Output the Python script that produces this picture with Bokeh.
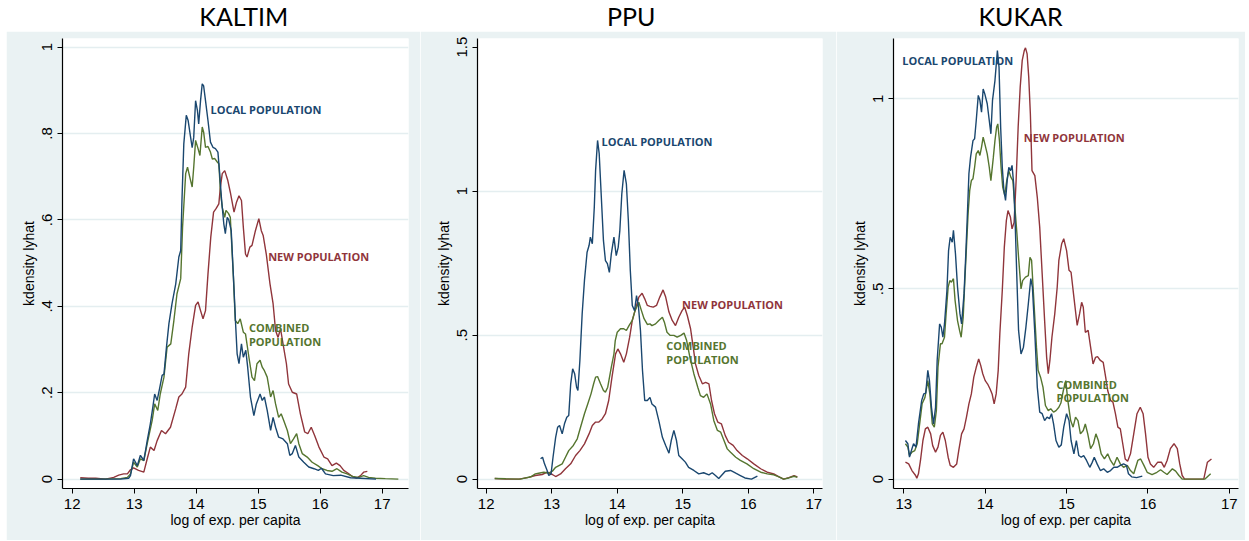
from bokeh.plotting import figure
from bokeh.layouts import row, column
from bokeh.models import FixedTicker, Range1d, ColumnDataSource, Spacer
from bokeh.core.properties import value
from bokeh.embed import file_html
from bokeh.resources import INLINE

# ---------------- data ----------------
panel_titles = ["KALTIM", "PPU", "KUKAR"]
x_axis_title = "log of exp. per capita"
y_axis_title = "kdensity lyhat"

kaltim_xticks = [12, 13, 14, 15, 16, 17]
kaltim_yticks = [0, 0.2, 0.4, 0.6, 0.8, 1.0]
kaltim_ytick_labels = ["0", ".2", ".4", ".6", ".8", "1"]

ppu_xticks = [12, 13, 14, 15, 16, 17]
ppu_yticks = [0, 0.5, 1.0, 1.5]
ppu_ytick_labels = ["0", ".5", "1", "1.5"]

kukar_xticks = [13, 14, 15, 16, 17]
kukar_yticks = [0, 0.5, 1.0]
kukar_ytick_labels = ["0", ".5", "1"]

# (x, density)
kaltim_local = [(12.13,0.0),(12.5,0.0),(12.78,0.0),(12.91,0.002),(12.94,0.008),(12.99,0.047),(13.05,0.031),(13.10,0.055),(13.155,0.043),(13.21,0.089),(13.26,0.128),(13.30,0.166),(13.33,0.197),(13.37,0.182),(13.41,0.21),(13.45,0.24),(13.48,0.243),(13.52,0.305),(13.56,0.36),(13.61,0.406),(13.67,0.452),(13.72,0.514),(13.75,0.529),(13.77,0.645),(13.80,0.776),(13.84,0.842),(13.87,0.83),(13.91,0.791),(13.935,0.767),(13.96,0.791),(13.99,0.876),(14.02,0.853),(14.04,0.822),(14.07,0.876),(14.097,0.915),(14.12,0.91),(14.15,0.876),(14.19,0.83),(14.23,0.78),(14.27,0.768),(14.31,0.765),(14.35,0.757),(14.375,0.714),(14.41,0.645),(14.445,0.591),(14.47,0.568),(14.50,0.606),(14.525,0.60),(14.565,0.575),(14.61,0.44),(14.635,0.36),(14.66,0.29),(14.69,0.267),(14.73,0.313),(14.76,0.282),(14.80,0.298),(14.83,0.259),(14.875,0.19),(14.93,0.147),(14.97,0.174),(15.03,0.197),(15.065,0.182),(15.10,0.19),(15.145,0.159),(15.20,0.1125),(15.24,0.143),(15.28,0.12),(15.33,0.097),(15.40,0.093),(15.47,0.082),(15.51,0.055),(15.55,0.059),(15.60,0.078),(15.655,0.051),(15.735,0.039),(15.815,0.028),(15.90,0.024),(15.97,0.02),(16.02,0.025),(16.085,0.012),(16.21,0.008),(16.33,0.009),(16.49,0.003),(16.65,0.002),(16.9,0.0)]

kaltim_new = [(12.13,0.003),(12.26,0.002),(12.38,0.002),(12.54,0.0),(12.67,0.004),(12.75,0.009),(12.83,0.012),(12.89,0.012),(12.94,0.0215),(12.99,0.026),(13.07,0.02),(13.155,0.016),(13.21,0.047),(13.26,0.074),(13.32,0.066),(13.37,0.089),(13.44,0.1125),(13.505,0.105),(13.585,0.12),(13.67,0.163),(13.72,0.19),(13.77,0.197),(13.83,0.213),(13.88,0.29),(13.935,0.352),(13.99,0.402),(14.03,0.41),(14.07,0.39),(14.11,0.371),(14.15,0.39),(14.19,0.475),(14.235,0.56),(14.28,0.618),(14.32,0.626),(14.365,0.637),(14.39,0.676),(14.42,0.707),(14.46,0.714),(14.51,0.691),(14.55,0.664),(14.61,0.618),(14.65,0.641),(14.69,0.656),(14.73,0.645),(14.76,0.583),(14.795,0.521),(14.82,0.514),(14.865,0.537),(14.90,0.541),(14.955,0.575),(15.01,0.603),(15.05,0.575),(15.08,0.564),(15.13,0.521),(15.19,0.452),(15.24,0.406),(15.28,0.344),(15.32,0.328),(15.36,0.348),(15.41,0.305),(15.455,0.267),(15.49,0.22),(15.55,0.201),(15.62,0.197),(15.68,0.151),(15.75,0.109),(15.80,0.105),(15.855,0.12),(15.91,0.101),(15.98,0.074),(16.06,0.051),(16.12,0.047),(16.19,0.031),(16.26,0.037),(16.32,0.031),(16.38,0.02),(16.445,0.014),(16.52,0.006),(16.585,0.002),(16.65,0.008),(16.70,0.016),(16.76,0.018)]

kaltim_combined = [(12.13,0.0),(12.46,0.0),(12.78,0.001),(12.89,0.004),(12.94,0.012),(12.99,0.039),(13.05,0.028),(13.10,0.047),(13.155,0.043),(13.21,0.082),(13.29,0.136),(13.33,0.174),(13.38,0.159),(13.42,0.197),(13.48,0.236),(13.53,0.305),(13.59,0.313),(13.64,0.367),(13.69,0.429),(13.75,0.464),(13.78,0.583),(13.83,0.707),(13.86,0.722),(13.89,0.703),(13.935,0.676),(13.96,0.722),(13.99,0.784),(14.03,0.765),(14.06,0.749),(14.097,0.815),(14.12,0.803),(14.15,0.768),(14.19,0.77),(14.23,0.757),(14.26,0.741),(14.30,0.742),(14.34,0.734),(14.365,0.73),(14.39,0.668),(14.42,0.629),(14.46,0.606),(14.48,0.622),(14.52,0.615),(14.55,0.606),(14.60,0.467),(14.63,0.367),(14.67,0.36),(14.71,0.371),(14.76,0.34),(14.795,0.336),(14.85,0.282),(14.90,0.236),(14.94,0.228),(14.98,0.267),(15.03,0.275),(15.065,0.259),(15.10,0.251),(15.145,0.236),(15.20,0.19),(15.24,0.205),(15.28,0.174),(15.33,0.143),(15.37,0.151),(15.41,0.136),(15.47,0.1125),(15.52,0.082),(15.57,0.093),(15.62,0.105),(15.655,0.082),(15.71,0.059),(15.79,0.051),(15.87,0.039),(15.96,0.031),(16.03,0.024),(16.11,0.02),(16.19,0.018),(16.27,0.024),(16.35,0.016),(16.435,0.012),(16.52,0.006),(16.62,0.004),(16.70,0.008),(16.78,0.004),(16.89,0.002),(17.05,0.001),(17.26,0.0)]

ppu_local = [(12.83,0.0705),(12.86,0.076),(12.89,0.053),(12.93,0.03),(12.955,0.0125),(12.99,0.018),(13.02,0.076),(13.06,0.145),(13.09,0.18),(13.12,0.186),(13.16,0.157),(13.195,0.192),(13.23,0.215),(13.26,0.221),(13.29,0.331),(13.32,0.383),(13.35,0.366),(13.38,0.319),(13.40,0.308),(13.43,0.412),(13.465,0.574),(13.50,0.69),(13.54,0.788),(13.57,0.811),(13.59,0.84),(13.62,0.817),(13.65,0.944),(13.67,1.072),(13.70,1.176),(13.725,1.13),(13.755,0.99),(13.79,0.828),(13.82,0.759),(13.85,0.748),(13.88,0.718),(13.91,0.782),(13.95,0.84),(13.985,0.776),(14.015,0.805),(14.04,0.863),(14.07,0.99),(14.105,1.072),(14.14,1.025),(14.17,0.898),(14.20,0.724),(14.23,0.603),(14.265,0.585),(14.295,0.6375),(14.325,0.597),(14.355,0.516),(14.386,0.377),(14.42,0.273),(14.46,0.273),(14.50,0.284),(14.53,0.261),(14.585,0.25),(14.635,0.203),(14.69,0.145),(14.74,0.117),(14.79,0.09),(14.825,0.134),(14.865,0.169),(14.905,0.134),(14.94,0.082),(14.99,0.0705),(15.04,0.059),(15.09,0.041),(15.17,0.03),(15.245,0.018),(15.32,0.022),(15.40,0.015),(15.45,0.022),(15.50,0.0125),(15.55,0.002),(15.65,0.0275),(15.73,0.03),(15.81,0.0205),(15.88,0.0125),(15.95,0.004),(16.05,0.0),(16.14,0.01)]

ppu_new = [(12.13,0.002),(12.3,0.0),(12.5,0.0),(12.65,0.006),(12.75,0.0125),(12.855,0.016),(12.93,0.024),(13.01,0.016),(13.06,0.009),(13.135,0.018),(13.21,0.036),(13.29,0.053),(13.365,0.082),(13.43,0.099),(13.50,0.1225),(13.57,0.157),(13.62,0.186),(13.67,0.198),(13.72,0.198),(13.77,0.209),(13.82,0.227),(13.87,0.273),(13.92,0.354),(13.975,0.435),(14.01,0.452),(14.05,0.435),(14.10,0.406),(14.14,0.435),(14.19,0.493),(14.23,0.551),(14.28,0.591),(14.33,0.632),(14.38,0.6455),(14.42,0.626),(14.46,0.603),(14.50,0.60),(14.55,0.597),(14.60,0.603),(14.65,0.632),(14.70,0.657),(14.74,0.632),(14.79,0.58),(14.84,0.551),(14.89,0.533),(14.94,0.562),(14.99,0.585),(15.03,0.597),(15.07,0.568),(15.12,0.522),(15.16,0.458),(15.195,0.40),(15.245,0.36),(15.30,0.331),(15.35,0.336),(15.40,0.331),(15.44,0.273),(15.485,0.227),(15.535,0.198),(15.59,0.192),(15.65,0.151),(15.70,0.128),(15.77,0.117),(15.83,0.099),(15.91,0.082),(15.985,0.0705),(16.085,0.053),(16.19,0.036),(16.29,0.024),(16.39,0.018),(16.47,0.008),(16.54,0.0),(16.62,0.005),(16.70,0.012),(16.75,0.008)]

ppu_combined = [(12.13,0.002),(12.3,0.001),(12.52,0.0),(12.68,0.008),(12.75,0.018),(12.80,0.0205),(12.88,0.024),(12.955,0.0205),(13.01,0.0275),(13.06,0.041),(13.11,0.047),(13.16,0.053),(13.21,0.076),(13.26,0.099),(13.33,0.117),(13.39,0.14),(13.44,0.18),(13.50,0.227),(13.55,0.261),(13.60,0.296),(13.64,0.331),(13.67,0.354),(13.70,0.356),(13.745,0.331),(13.79,0.308),(13.82,0.302),(13.855,0.319),(13.91,0.389),(13.95,0.435),(13.97,0.481),(14.00,0.51),(14.05,0.522),(14.10,0.522),(14.14,0.516),(14.18,0.533),(14.23,0.551),(14.265,0.58),(14.295,0.597),(14.33,0.614),(14.37,0.585),(14.41,0.557),(14.46,0.537),(14.50,0.539),(14.53,0.533),(14.585,0.539),(14.635,0.551),(14.69,0.562),(14.72,0.545),(14.76,0.51),(14.81,0.499),(14.865,0.499),(14.915,0.493),(14.97,0.499),(15.02,0.507),(15.06,0.481),(15.11,0.423),(15.17,0.366),(15.23,0.319),(15.27,0.29),(15.32,0.284),(15.37,0.296),(15.425,0.261),(15.475,0.203),(15.53,0.169),(15.58,0.163),(15.63,0.134),(15.68,0.105),(15.73,0.093),(15.81,0.076),(15.88,0.065),(15.98,0.053),(16.085,0.036),(16.19,0.024),(16.29,0.018),(16.39,0.015),(16.47,0.008),(16.54,0.0),(16.62,0.004),(16.70,0.01),(16.75,0.006)]

kukar_local = [(13.02,0.1015),(13.05,0.093),(13.07,0.058),(13.10,0.08),(13.12,0.093),(13.15,0.084),(13.18,0.145),(13.22,0.207),(13.245,0.224),(13.27,0.226),(13.295,0.286),(13.315,0.259),(13.34,0.189),(13.365,0.145),(13.39,0.189),(13.41,0.312),(13.44,0.408),(13.46,0.40),(13.48,0.373),(13.50,0.408),(13.53,0.496),(13.55,0.601),(13.57,0.636),(13.595,0.623),(13.61,0.654),(13.635,0.592),(13.66,0.505),(13.69,0.435),(13.71,0.408),(13.74,0.487),(13.76,0.583),(13.78,0.689),(13.80,0.803),(13.82,0.846),(13.85,0.89),(13.87,0.895),(13.89,0.943),(13.915,1.009),(13.935,0.996),(13.955,0.965),(13.975,1.026),(13.995,1.013),(14.025,0.987),(14.05,0.943),(14.07,0.908),(14.09,0.996),(14.12,1.048),(14.14,1.101),(14.15,1.127),(14.17,1.083),(14.19,0.925),(14.21,0.82),(14.23,0.759),(14.25,0.733),(14.27,0.785),(14.29,0.82),(14.31,0.811),(14.33,0.825),(14.35,0.776),(14.37,0.662),(14.39,0.522),(14.41,0.391),(14.44,0.329),(14.47,0.347),(14.50,0.399),(14.53,0.461),(14.56,0.527),(14.58,0.505),(14.61,0.382),(14.64,0.242),(14.67,0.176),(14.70,0.172),(14.73,0.154),(14.76,0.163),(14.79,0.159),(14.815,0.172),(14.84,0.145),(14.87,0.1015),(14.905,0.084),(14.935,0.09),(14.965,0.1365),(15.0,0.172),(15.03,0.154),(15.055,0.1015),(15.09,0.0665),(15.12,0.1015),(15.15,0.062),(15.18,0.0575),(15.21,0.062),(15.245,0.049),(15.285,0.031),(15.315,0.044),(15.34,0.0575),(15.375,0.04),(15.415,0.0225),(15.455,0.027),(15.50,0.018),(15.54,0.0225),(15.58,0.031),(15.62,0.031),(15.66,0.036),(15.70,0.04),(15.735,0.036),(15.76,0.014),(15.80,0.006),(15.86,0.004),(15.93,0.008)]

kukar_new = [(13.02,0.0445),(13.06,0.040),(13.10,0.0225),(13.145,0.0095),(13.16,0.002),(13.18,0.014),(13.205,0.049),(13.235,0.1015),(13.265,0.132),(13.295,0.1365),(13.33,0.119),(13.355,0.088),(13.39,0.071),(13.42,0.084),(13.45,0.115),(13.48,0.1235),(13.51,0.1015),(13.545,0.0575),(13.57,0.036),(13.61,0.031),(13.65,0.040),(13.675,0.075),(13.71,0.119),(13.74,0.132),(13.77,0.163),(13.80,0.198),(13.83,0.224),(13.86,0.268),(13.89,0.294),(13.92,0.316),(13.945,0.299),(13.97,0.277),(14.00,0.259),(14.03,0.25),(14.06,0.237),(14.085,0.224),(14.11,0.198),(14.135,0.224),(14.16,0.286),(14.18,0.382),(14.21,0.496),(14.235,0.61),(14.26,0.68),(14.28,0.706),(14.31,0.689),(14.33,0.658),(14.355,0.675),(14.38,0.785),(14.405,0.925),(14.43,1.03),(14.455,1.101),(14.48,1.127),(14.495,1.134),(14.515,1.118),(14.535,1.057),(14.555,0.96),(14.575,0.811),(14.61,0.798),(14.64,0.741),(14.67,0.662),(14.70,0.54),(14.73,0.417),(14.755,0.32),(14.775,0.277),(14.795,0.312),(14.82,0.373),(14.855,0.435),(14.885,0.505),(14.905,0.575),(14.94,0.619),(14.965,0.632),(15.0,0.601),(15.03,0.549),(15.055,0.544),(15.09,0.478),(15.13,0.404),(15.16,0.435),(15.185,0.465),(15.205,0.452),(15.23,0.386),(15.265,0.391),(15.295,0.347),(15.325,0.303),(15.355,0.32),(15.38,0.322),(15.415,0.312),(15.45,0.307),(15.48,0.268),(15.505,0.233),(15.54,0.207),(15.57,0.202),(15.60,0.172),(15.63,0.1365),(15.66,0.132),(15.69,0.093),(15.72,0.053),(15.75,0.047),(15.785,0.0665),(15.825,0.119),(15.865,0.172),(15.905,0.189),(15.94,0.172),(15.97,0.119),(16.0,0.0575),(16.03,0.040),(16.07,0.031),(16.12,0.0445),(16.165,0.0445),(16.20,0.031),(16.235,0.049),(16.275,0.08),(16.32,0.093),(16.36,0.08),(16.39,0.040),(16.42,0.0095),(16.45,0.0),(16.685,0.0),(16.73,0.0445),(16.78,0.053)]

kukar_combined = [(13.02,0.093),(13.05,0.084),(13.07,0.062),(13.10,0.071),(13.135,0.075),(13.165,0.093),(13.19,0.1365),(13.225,0.198),(13.26,0.215),(13.295,0.259),(13.32,0.224),(13.35,0.145),(13.375,0.1365),(13.40,0.18),(13.42,0.294),(13.45,0.356),(13.47,0.356),(13.50,0.373),(13.52,0.435),(13.545,0.505),(13.565,0.522),(13.585,0.518),(13.61,0.527),(13.63,0.47),(13.66,0.417),(13.685,0.391),(13.705,0.373),(13.73,0.426),(13.75,0.522),(13.77,0.61),(13.79,0.698),(13.81,0.759),(13.83,0.785),(13.85,0.79),(13.87,0.82),(13.89,0.855),(13.915,0.864),(13.935,0.851),(13.955,0.873),(13.975,0.899),(13.995,0.882),(14.025,0.855),(14.05,0.82),(14.07,0.785),(14.10,0.846),(14.12,0.89),(14.14,0.925),(14.155,0.934),(14.175,0.89),(14.195,0.82),(14.215,0.768),(14.24,0.746),(14.265,0.785),(14.29,0.811),(14.315,0.794),(14.34,0.785),(14.365,0.715),(14.39,0.645),(14.41,0.583),(14.44,0.50),(14.46,0.522),(14.495,0.531),(14.53,0.535),(14.55,0.583),(14.57,0.575),(14.60,0.461),(14.63,0.347),(14.65,0.286),(14.68,0.268),(14.71,0.242),(14.74,0.1935),(14.775,0.18),(14.805,0.185),(14.84,0.176),(14.87,0.18),(14.905,0.189),(14.93,0.20),(14.96,0.233),(14.99,0.259),(15.015,0.207),(15.05,0.154),(15.08,0.1365),(15.11,0.163),(15.14,0.154),(15.17,0.119),(15.205,0.128),(15.23,0.145),(15.26,0.119),(15.295,0.08),(15.33,0.093),(15.36,0.119),(15.39,0.1015),(15.425,0.0665),(15.465,0.053),(15.505,0.0665),(15.54,0.049),(15.58,0.036),(15.62,0.0575),(15.66,0.04),(15.70,0.031),(15.745,0.036),(15.785,0.0225),(15.825,0.014),(15.875,0.049),(15.91,0.053),(15.95,0.036),(15.99,0.018),(16.05,0.012),(16.11,0.018),(16.155,0.0245),(16.195,0.018),(16.235,0.012),(16.30,0.027),(16.34,0.021),(16.38,0.0095),(16.42,0.0),(16.70,0.0),(16.77,0.014)]

# in-plot labels: text, x, y (data units); series index (0 local, 1 new, 2 combined)
kaltim_label_text = ["LOCAL POPULATION", "NEW POPULATION", "COMBINED", "POPULATION"]
kaltim_label_x = [14.23, 15.16, 14.85, 14.85]
kaltim_label_y = [0.856, 0.515, 0.351, 0.319]
ppu_label_text = ["LOCAL POPULATION", "NEW POPULATION", "COMBINED", "POPULATION"]
ppu_label_x = [13.76, 14.99, 14.75, 14.75]
ppu_label_y = [1.173, 0.606, 0.464, 0.416]
kukar_label_text = ["LOCAL POPULATION", "NEW POPULATION", "COMBINED", "POPULATION"]
kukar_label_x = [12.98, 14.474, 14.876, 14.876]
kukar_label_y = [1.101, 0.898, 0.2495, 0.215]
label_series = [0, 1, 2, 2]

# ---------------- style ----------------
BG = "#eaf2f3"
GRID = "#e4eef0"
COLORS = ["#1a476f", "#90353b", "#55752f"]  # local, new, combined
TICK_FONT = "Liberation Sans"


def build_panel(xr, yr, xticks, yticks, ytick_labels, grid_ticks, curves,
                ltext, lx, ly, left, right, fw):
    p = figure(title=None, frame_width=fw, frame_height=450,
               min_border_left=left, min_border_right=right,
               min_border_top=7, min_border_bottom=52,
               x_range=Range1d(*xr), y_range=Range1d(*yr),
               output_backend="svg", toolbar_location=None,
               background_fill_color="white", border_fill_color=BG,
               outline_line_color=None)
    p.xgrid.visible = False
    p.ygrid.ticker = FixedTicker(ticks=grid_ticks)
    p.ygrid.grid_line_color = GRID
    p.ygrid.grid_line_width = 1.3

    for ax in (p.xaxis[0], p.yaxis[0]):
        ax.axis_line_color = "black"
        ax.axis_line_width = 1.2
        ax.major_tick_line_color = "black"
        ax.major_tick_line_width = 1
        ax.major_tick_out = 5
        ax.major_tick_in = 0
        ax.minor_tick_line_color = None
        ax.major_label_text_font = TICK_FONT
        ax.major_label_text_font_size = "15px"
        ax.major_label_text_color = "black"
        ax.axis_label_text_font = TICK_FONT
        ax.axis_label_text_font_size = "14px"
        ax.axis_label_text_font_style = "normal"
        ax.axis_label_text_color = "black"

    p.xaxis.ticker = FixedTicker(ticks=xticks)
    p.xaxis.axis_label = x_axis_title
    p.xaxis.major_label_standoff = 5
    p.xaxis.axis_label_standoff = 0

    p.yaxis.ticker = FixedTicker(ticks=yticks)
    p.yaxis.major_label_overrides = {t: s for t, s in zip(yticks, ytick_labels)}
    p.yaxis.major_label_orientation = "vertical"
    p.yaxis.axis_label = y_axis_title
    p.yaxis.major_label_standoff = 5
    p.yaxis.axis_label_standoff = 3

    # draw new, combined, local (local on top)
    for idx in (1, 2, 0):
        xs = [c[0] for c in curves[idx]]
        ys = [c[1] for c in curves[idx]]
        p.line(xs, ys, line_color=COLORS[idx], line_width=1.4)

    src = ColumnDataSource(dict(x=lx, y=ly, text=ltext,
                                color=[COLORS[i] for i in label_series]))
    p.text(x="x", y="y", text="text", source=src, text_color="color",
           text_font=value("Open Sans"), text_font_style="bold",
           text_font_size=value("11px"), text_baseline="middle",
           text_align="left")
    return p


p1 = build_panel((11.8435, 17.424), (-0.0218, 1.0199), kaltim_xticks,
                 kaltim_yticks, kaltim_ytick_labels, kaltim_yticks,
                 [kaltim_local, kaltim_new, kaltim_combined],
                 kaltim_label_text, kaltim_label_x, kaltim_label_y, 56, 12, 346)
p2 = build_panel((11.867, 17.134), (-0.0326, 1.530), ppu_xticks,
                 ppu_yticks, ppu_ytick_labels, ppu_yticks[:-1],
                 [ppu_local, ppu_new, ppu_combined],
                 ppu_label_text, ppu_label_x, ppu_label_y, 57, 14, 345)
p3 = build_panel((12.8735, 17.112), (-0.0247, 1.1586), kukar_xticks,
                 kukar_yticks, kukar_ytick_labels, kukar_yticks,
                 [kukar_local, kukar_new, kukar_combined],
                 kukar_label_text, kukar_label_x, kukar_label_y, 57, 7, 345)

# title strip (white, above the grey panels); 1 data unit = 1 pixel
strip = figure(title=None, width=1245, height=31,
               x_range=Range1d(0, 1245), y_range=Range1d(0, 31),
               min_border=0, x_axis_location=None, y_axis_location=None,
               toolbar_location=None, output_backend="svg",
               outline_line_color=None, background_fill_color="white",
               border_fill_color="white")
strip.grid.visible = False
title_src = ColumnDataSource(dict(x=[243.3, 630.8, 1020.0], y=[15.5, 15.5, 15.5],
                                  text=panel_titles))
strip.text(x="x", y="y", text="text", source=title_src,
           text_align="center", text_baseline="middle",
           text_font=value("Lato"), text_font_size=value("25px"),
           text_color="black")

layout = column(strip, row(Spacer(width=6, height=509), p1, p2, p3))
open("out.html", "w").write(file_html(layout, INLINE))
